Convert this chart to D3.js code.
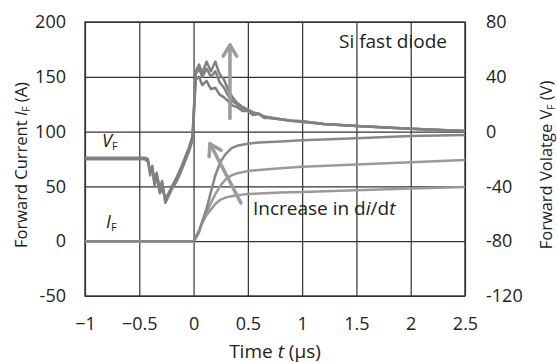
<!DOCTYPE html>
<html>
<head>
<meta charset="utf-8">
<script src="https://cdn.jsdelivr.net/npm/d3@7"></script>
<style>
  body { margin: 0; background: #fff; }
  svg { font-family: "Open Sans", "Noto Sans", sans-serif; }
</style>
</head>
<body>
<div id="chart"></div>
<script>
// time ticks and axis labels
const xTicks = [-1, -0.5, 0, 0.5, 1, 1.5, 2, 2.5]
const xTickLabels = ['\u22121', '\u22120.5', '0', '0.5', '1', '1.5', '2', '2.5']
const iTicks = [200, 150, 100, 50, 0, -50]
const vTicks = [80, 40, 0, -40, -80, -120]

// forward voltage traces (V), shared time base (us)
const tV = [-1, -0.45, -0.42, -0.40, -0.38, -0.36, -0.34, -0.31, -0.29, -0.26, -0.23, -0.20, -0.16, -0.12, -0.08, -0.04, -0.01,
    0.0, 0.02, 0.05, 0.08, 0.12, 0.16, 0.20, 0.24, 0.28, 0.32, 0.36, 0.40, 0.45, 0.50, 0.55, 0.60, 0.65, 0.70, 0.80, 0.90, 1.0, 1.2, 1.5, 2.0, 2.5]
const vf1 = [-20, -20, -21, -30, -26, -38, -31, -44, -38, -50, -46, -41, -36, -29, -21, -13, -5,
    8, 38, 40, 34, 37, 31, 32, 27, 25, 22, 19, 18, 15, 15, 12, 13, 10, 10, 9, 8, 7, 5.5, 4, 2, 0.5]
const vf2 = [-20, -20, -22, -29, -28, -36, -34, -45, -41, -49, -45, -40, -34, -27, -19, -11, -3,
    10, 42, 46, 40, 46, 40, 44, 36, 32, 26, 22, 20, 17, 16, 13, 13, 11, 10, 9, 8, 7.5, 5.5, 4, 2, 0.5]
const vf3 = [-19, -19, -20, -32, -25, -39, -30, -42, -36, -52, -47, -42, -37, -30, -22, -14, -6,
    12, 44, 49, 43, 51, 44, 51, 42, 38, 30, 25, 21, 18, 16, 14, 13, 11, 10.5, 9, 8, 7.5, 5.5, 4, 2, 0.5]

// forward current traces (A)
const tI = [-1, -0.5, 0, 0.02, 0.05, 0.08, 0.12, 0.16, 0.20, 0.25, 0.30, 0.35, 0.40, 0.45, 0.50, 0.60, 0.80, 1.0, 1.5, 2.0, 2.5]
const if1 = [0, 0, 0, 3, 8, 18, 30, 45, 60, 73, 80, 85, 87, 88, 89, 90, 91, 92, 94, 96, 97]
const if2 = [0, 0, 0, 3, 9, 17, 26, 35, 43, 51, 57, 60, 62, 63, 64, 65, 66.5, 68, 70, 72, 74]
const if3 = [0, 0, 0, 4, 10, 17, 24, 29, 34, 38, 40, 41, 42, 42.5, 43, 43.5, 44.5, 45, 46.5, 48, 49.5]

// arrows: [t, I] tail -> head
const arrowUp = [[0.335, 112], [0.335, 179]]
const arrowDiDt = [[0.436, 35], [0.151, 89]]

const width = 557
const height = 363
const margin = { left: 85, right: 92, top: 22, bottom: 67 }

const svg = d3.select('#chart')
    .append('svg')
    .attr('width', width)
    .attr('height', height)

const x = d3.scaleLinear().domain([-1, 2.5]).range([margin.left, width - margin.right])
const yI = d3.scaleLinear().domain([-50, 200]).range([height - margin.bottom, margin.top])
const yV = d3.scaleLinear().domain([-120, 80]).range([height - margin.bottom, margin.top])
const plotH = height - margin.bottom - margin.top
const plotW = width - margin.right - margin.left

// grid via axes
const xAxis = d3.axisBottom(x).tickValues(xTicks).tickSize(-plotH).tickPadding(21)
    .tickFormat((d, i) => xTickLabels[i])
svg.append('g')
    .attr('transform', `translate(0, ${height - margin.bottom})`)
    .call(xAxis)
    .call(g => g.select('.domain').remove())

const yAxisL = d3.axisLeft(yI).tickValues(iTicks).tickSize(-plotW).tickPadding(19)
    .tickFormat(d => String(d))
svg.append('g')
    .attr('transform', `translate(${margin.left}, 0)`)
    .call(yAxisL)
    .call(g => g.select('.domain').remove())

const yAxisR = d3.axisRight(yV).tickValues(vTicks).tickSize(0).tickPadding(21)
    .tickFormat(d => String(d))
svg.append('g')
    .attr('transform', `translate(${width - margin.right}, 0)`)
    .call(yAxisR)
    .call(g => g.select('.domain').remove())

svg.selectAll('.tick line').attr('stroke', '#333').attr('stroke-width', 1.2)
svg.selectAll('.tick text').attr('font-size', 18).attr('fill', '#222')
    .attr('font-family', '"Open Sans", sans-serif')

svg.append('rect')
    .attr('x', margin.left).attr('y', margin.top)
    .attr('width', plotW).attr('height', plotH)
    .attr('fill', 'none').attr('stroke', '#333').attr('stroke-width', 1.4)

// traces
const lineV = d3.line().x((d, i) => x(tV[i])).y((d) => yV(d))
const lineI = d3.line().x((d, i) => x(tI[i])).y((d) => yI(d))

svg.selectAll('.vf')
    .data([vf1, vf2, vf3])
    .enter()
    .append('path')
    .attr('class', 'vf')
    .attr('d', lineV)
    .attr('fill', 'none')
    .attr('stroke', '#808080')
    .attr('stroke-width', 2.5)
    .attr('stroke-linejoin', 'round')

svg.selectAll('.if')
    .data([if3, if2, if1])
    .enter()
    .append('path')
    .attr('class', 'if')
    .attr('d', lineI)
    .attr('fill', 'none')
    .attr('stroke', (d, i) => i === 2 ? '#888' : '#9a9a9a')
    .attr('stroke-width', 2.5)
    .attr('stroke-linejoin', 'round')

// arrows
const drawArrow = (pts) => {
    const [x0, y0] = [x(pts[0][0]), yI(pts[0][1])]
    const [x1, y1] = [x(pts[1][0]), yI(pts[1][1])]
    const ang = Math.atan2(y1 - y0, x1 - x0)
    const len = 13
    const g = svg.append('g').attr('stroke', '#9c9c9c').attr('stroke-width', 3.5)
        .attr('fill', 'none').attr('stroke-linecap', 'round').attr('stroke-linejoin', 'round')
    g.append('line').attr('x1', x0).attr('y1', y0).attr('x2', x1).attr('y2', y1)
    g.append('polyline').attr('points', [
        [x1 - len * Math.cos(ang - 0.55), y1 - len * Math.sin(ang - 0.55)],
        [x1, y1],
        [x1 - len * Math.cos(ang + 0.55), y1 - len * Math.sin(ang + 0.55)]
    ].map(p => p.join(',')).join(' '))
}
drawArrow(arrowUp)
drawArrow(arrowDiDt)

// labels
const label = (tx, ty, parts, size, anchor, rotate) => {
    const t = svg.append('text')
        .attr('font-size', size)
        .attr('fill', '#222')
        .attr('text-anchor', anchor || 'start')
        .attr('transform', `translate(${tx}, ${ty})` + (rotate ? ` rotate(${rotate})` : ''))
    parts.forEach(p => {
        const s = t.append('tspan').text(p.text)
        if (p.italic) s.attr('font-style', 'italic')
        if (p.sub) s.attr('font-size', size * 0.6).attr('dy', 3)
        if (p.after) s.attr('dy', -3)
    })
    return t
}

label(339, 48, [{ text: 'Si fast diode' }], 19)
label(102, 147, [{ text: 'V', italic: true }, { text: 'F', sub: true }], 18)
label(106, 228, [{ text: 'I', italic: true }, { text: 'F', sub: true }], 18)
label(253, 215, [{ text: 'Increase in d' }, { text: 'i', italic: true }, { text: '/d' }, { text: 't', italic: true }], 19)
label(275, 358, [{ text: 'Time ' }, { text: 't', italic: true }, { text: ' (\u00b5s)' }], 19, 'middle')
label(27, 165, [{ text: 'Forward Current ' }, { text: 'I', italic: true }, { text: 'F', sub: true }, { text: ' (A)', after: true }], 16.5, 'middle', -90)
label(552, 165, [{ text: 'Forward Volatge V' }, { text: 'F', sub: true }, { text: ' (V)', after: true }], 16.5, 'middle', -90)
</script>
</body>
</html>
